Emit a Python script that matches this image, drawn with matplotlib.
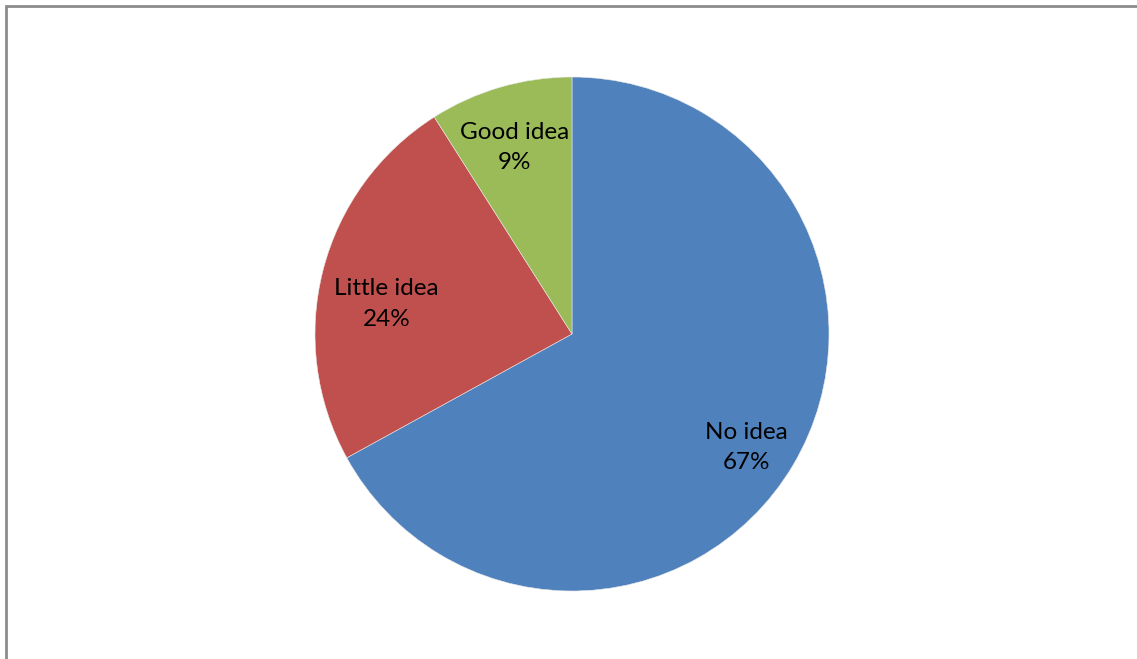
import matplotlib.pyplot as plt
import numpy as np
from matplotlib.patches import Rectangle

# Data
labels = ["No idea", "Little idea", "Good idea"]
shares = [67, 24, 9]
colors = ["#4F81BD", "#C0504D", "#9BBB59"]

# label placement (radius fraction, angle nudge in degrees)
label_dist = [0.81, 0.73, 0.76]
label_nudge = [-2.5, 5.2, 0.8]

W, H = 1137, 659
fig = plt.figure(figsize=(W / 100, H / 100), dpi=100)

# outer chart border (right and bottom run off the image)
fig.patches.append(Rectangle((6 / W, -0.05), 1.1, (H - 6) / H + 0.05,
                             transform=fig.transFigure, fill=False,
                             edgecolor="#8C8C8C", linewidth=2))

cx, cy, r = 572, 334, 257
ax = fig.add_axes([(cx - r) / W, (H - cy - r) / H, 2 * r / W, 2 * r / H])
wedges, _ = ax.pie(shares, colors=colors, startangle=90, counterclock=False,
                   wedgeprops=dict(edgecolor="#E8E8E8", linewidth=0.4))
ax.set_xlim(-1, 1)
ax.set_ylim(-1, 1)
ax.set_aspect("equal")
ax.axis("off")

total = sum(shares)
for w, lab, val, d, nudge in zip(wedges, labels, shares, label_dist, label_nudge):
    ang = np.deg2rad((w.theta1 + w.theta2) / 2 + nudge)
    ax.text(d * np.cos(ang), d * np.sin(ang), f"{lab}\n{val / total:.0%}",
            ha="center", va="center", fontsize=17.5, family="Lato",
            linespacing=1.55)

fig.savefig("out.png", dpi=100)
